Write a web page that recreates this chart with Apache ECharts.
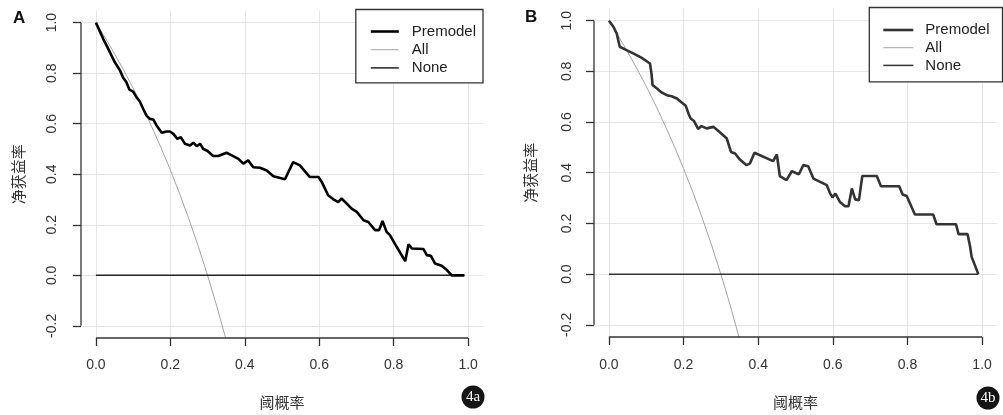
<!DOCTYPE html>
<html><head><meta charset="utf-8">
<script src="https://cdn.jsdelivr.net/npm/echarts@6/dist/echarts.min.js"></script>
<style>html,body{margin:0;padding:0;background:#fff}#c{width:1003px;height:415px}</style>
</head><body><div id="c"></div>
<script>
// ---- tick labels ----
const xTicks = [0, 0.2, 0.4, 0.6, 0.8, 1.0];
const yTicks = [-0.2, 0, 0.2, 0.4, 0.6, 0.8, 1.0];
const xTitle = '阈概率';
const yTitle = '净获益率';
const legendNames = ['Premodel', 'All', 'None'];

// ---- Panel A: Premodel ----
const premodelA_x = [0, 0.02, 0.038, 0.051, 0.065, 0.073, 0.082, 0.09, 0.1, 0.109, 0.118, 0.127, 0.136, 0.145, 0.154, 0.163, 0.177, 0.19, 0.199, 0.208, 0.219, 0.228, 0.239, 0.253, 0.262, 0.271, 0.28, 0.288, 0.3, 0.315, 0.329, 0.351, 0.365, 0.383, 0.396, 0.409, 0.423, 0.441, 0.459, 0.477, 0.49, 0.508, 0.53, 0.548, 0.575, 0.598, 0.607, 0.624, 0.638, 0.651, 0.66, 0.674, 0.687, 0.701, 0.719, 0.732, 0.75, 0.761, 0.77, 0.781, 0.79, 0.808, 0.831, 0.84, 0.849, 0.88, 0.889, 0.9, 0.911, 0.929, 0.943, 0.956, 0.99];
const premodelA_y = [1.0, 0.935, 0.882, 0.843, 0.81, 0.783, 0.764, 0.735, 0.727, 0.705, 0.688, 0.659, 0.632, 0.619, 0.617, 0.593, 0.564, 0.569, 0.569, 0.56, 0.54, 0.547, 0.521, 0.514, 0.525, 0.511, 0.521, 0.501, 0.492, 0.472, 0.472, 0.485, 0.475, 0.461, 0.442, 0.455, 0.428, 0.426, 0.415, 0.392, 0.387, 0.38, 0.448, 0.435, 0.389, 0.389, 0.369, 0.317, 0.301, 0.29, 0.304, 0.284, 0.264, 0.251, 0.218, 0.211, 0.179, 0.179, 0.215, 0.172, 0.159, 0.113, 0.056, 0.123, 0.106, 0.104, 0.08, 0.077, 0.047, 0.038, 0.021, 0.0, 0.0];

// ---- Panel B: Premodel ----
const premodelB_x = [0, 0.012, 0.021, 0.025, 0.029, 0.047, 0.065, 0.088, 0.11, 0.114, 0.117, 0.128, 0.141, 0.155, 0.168, 0.182, 0.195, 0.206, 0.213, 0.219, 0.228, 0.239, 0.248, 0.262, 0.28, 0.298, 0.316, 0.327, 0.338, 0.351, 0.369, 0.378, 0.39, 0.44, 0.45, 0.458, 0.476, 0.49, 0.509, 0.521, 0.534, 0.548, 0.566, 0.584, 0.592, 0.599, 0.607, 0.619, 0.633, 0.642, 0.651, 0.66, 0.67, 0.679, 0.718, 0.729, 0.778, 0.787, 0.798, 0.82, 0.869, 0.878, 0.93, 0.937, 0.961, 0.968, 0.972, 0.99];
const premodelB_y = [1.0, 0.976, 0.949, 0.923, 0.897, 0.884, 0.871, 0.853, 0.831, 0.792, 0.746, 0.733, 0.717, 0.706, 0.702, 0.693, 0.677, 0.664, 0.634, 0.614, 0.604, 0.573, 0.584, 0.575, 0.581, 0.559, 0.535, 0.482, 0.476, 0.452, 0.43, 0.437, 0.479, 0.446, 0.472, 0.387, 0.371, 0.406, 0.394, 0.43, 0.426, 0.377, 0.364, 0.351, 0.321, 0.303, 0.318, 0.285, 0.268, 0.268, 0.338, 0.295, 0.292, 0.387, 0.387, 0.347, 0.347, 0.314, 0.308, 0.235, 0.235, 0.197, 0.197, 0.158, 0.158, 0.108, 0.068, 0.0];

// ---- All (treat all) ----
const all_x = [0, 0.025, 0.05, 0.075, 0.1, 0.125, 0.15, 0.175, 0.2, 0.225, 0.25, 0.275, 0.3, 0.325, 0.35];
const allA_y = [1.0, 0.94, 0.877, 0.811, 0.741, 0.667, 0.588, 0.505, 0.417, 0.323, 0.222, 0.115, 0.0, -0.123, -0.256];
const allB_y = [1.0, 0.94, 0.877, 0.811, 0.741, 0.667, 0.588, 0.505, 0.417, 0.323, 0.222, 0.115, 0.0, -0.123, -0.256];

// ---- None ----
const none_x = [0, 0.99];
const none_y = [0, 0];

// axis ranges (R style 4% padding)
const xRange = [-0.04, 1.04];
const yRange = [-0.248, 1.048];

const zip = (xs, ys) => xs.map((x, i) => [x, ys[i]]);
const fmt = v => v.toFixed(1);
const FONT = '"Liberation Sans", Arial, sans-serif';
const CJK = '"Noto Sans CJK SC", sans-serif';

function makeAxes(gi, yMargin, xMargin, yGap, xGap) {
  const x = {
    type: 'value', gridIndex: gi, min: xRange[0], max: xRange[1],
    axisLine: { show: false, onZero: false },
    axisTick: { show: true, customValues: xTicks, length: 8, lineStyle: { color: '#333', width: 1.3 } },
    axisLabel: { customValues: xTicks, formatter: fmt, margin: xMargin, fontSize: 14, color: '#333', fontFamily: FONT },
    splitLine: { show: true, lineStyle: { color: '#e6e6e6', width: 1 } },
    name: xTitle, nameLocation: 'middle', nameGap: xGap,
    nameTextStyle: { fontSize: 15, color: '#333', fontFamily: CJK }
  };
  const y = {
    type: 'value', gridIndex: gi, min: yRange[0], max: yRange[1],
    axisLine: { show: false, onZero: false },
    axisTick: { show: true, customValues: yTicks, length: 8, lineStyle: { color: '#333', width: 1.3 } },
    axisLabel: { customValues: yTicks, formatter: fmt, margin: yMargin, rotate: 90, fontSize: 14, color: '#333', fontFamily: FONT },
    splitLine: { show: true, lineStyle: { color: '#e6e6e6', width: 1 } },
    name: yTitle, nameLocation: 'middle', nameGap: yGap,
    nameTextStyle: { fontSize: 15, color: '#333', fontFamily: CJK }
  };
  return [x, y];
}

const [xa, ya] = makeAxes(0, 22, 20, 55, 57);
const [xb, yb] = makeAxes(1, 20, 21, 56, 58);

function panelSeries(gi, pre, allY, preColor, preWidth, noneColor) {
  const base = { type: 'line', xAxisIndex: gi, yAxisIndex: gi, symbol: 'none', silent: true };
  return [
    Object.assign({}, base, { name: 'All', data: zip(all_x, allY), lineStyle: { color: '#a3a3a3', width: 1 }, itemStyle: { color: '#a3a3a3' }, z: 3 }),
    Object.assign({}, base, { name: 'None', data: zip(none_x, none_y), lineStyle: { color: noneColor, width: 1.5 }, itemStyle: { color: noneColor }, z: 4 }),
    Object.assign({}, base, { name: 'Premodel', data: pre, lineStyle: { color: preColor, width: preWidth }, itemStyle: { color: preColor }, z: 5 }),
    // axis lines spanning the tick range only (R style)
    Object.assign({}, base, { name: 'axisX' + gi, data: [[xTicks[0], yRange[0]], [xTicks[xTicks.length - 1], yRange[0]]], clip: false, lineStyle: { color: '#333', width: 1.3 }, z: 6 }),
    Object.assign({}, base, { name: 'axisY' + gi, data: [[xRange[0], yTicks[0]], [xRange[0], yTicks[yTicks.length - 1]]], clip: false, lineStyle: { color: '#333', width: 1.3 }, z: 6 })
  ];
}

function lineIcon(w, h) {
  return 'path://M0,0H' + w + 'V' + h + 'H0Z';
}

function legendFor(pos, iconW, gap, padding, textPad, preColor, preWidth, noneColor) {
  return Object.assign({
    orient: 'vertical', itemWidth: iconW, itemHeight: 15, itemGap: gap,
    padding: padding, borderColor: '#333', borderWidth: 1.3, backgroundColor: '#fff',
    selectedMode: false, symbolKeepAspect: true,
    textStyle: { fontSize: 15, color: '#222', fontFamily: FONT, lineHeight: 15, padding: [0, 0, 0, textPad] },
    data: [
      { name: 'Premodel', icon: lineIcon(iconW, preWidth), itemStyle: { color: preColor, borderWidth: 0 } },
      { name: 'All', icon: lineIcon(iconW, 1), itemStyle: { color: '#a3a3a3', borderWidth: 0 } },
      { name: 'None', icon: lineIcon(iconW, 1.5), itemStyle: { color: noneColor, borderWidth: 0 } }
    ]
  }, pos);
}

const chart = echarts.init(document.getElementById('c'), null, { renderer: 'canvas' });
chart.setOption({
  animation: false,
  backgroundColor: '#fff',
  grid: [
    { left: 81, right: 520, top: 10.5, bottom: 76.5 },
    { left: 594, right: 6, top: 8.5, bottom: 77.5 }
  ],
  xAxis: [xa, xb],
  yAxis: [ya, yb],
  legend: [
    legendFor({ right: 520, top: 9.5 }, 28, 3.2, [14.5, 7, 7.5, 15], 8, '#000', 2.6, '#222'),
    legendFor({ right: 0.5, top: 7.5 }, 30, 2.7, [15, 13, 9, 14], 7, '#333', 2.6, '#333')
  ],
  series: [].concat(
    panelSeries(0, zip(premodelA_x, premodelA_y), allA_y, '#000', 2.6, '#222'),
    panelSeries(1, zip(premodelB_x, premodelB_y), allB_y, '#333', 2.6, '#333')
  ),
  graphic: [
    { type: 'text', left: 13, top: 10, style: { text: 'A', font: 'bold 17px "Liberation Sans"', fill: '#111' } },
    { type: 'text', left: 525, top: 9, style: { text: 'B', font: 'bold 17px "Liberation Sans"', fill: '#111' } },
    { type: 'circle', shape: { cx: 473, cy: 397, r: 11.5 }, style: { fill: '#151515' } },
    { type: 'text', x: 473, y: 397, style: { text: '4a', font: '15px "Liberation Serif"', fill: '#fff', align: 'center', verticalAlign: 'middle' } },
    { type: 'circle', shape: { cx: 988, cy: 398, r: 11.5 }, style: { fill: '#151515' } },
    { type: 'text', x: 988, y: 398, style: { text: '4b', font: '15px "Liberation Serif"', fill: '#fff', align: 'center', verticalAlign: 'middle' } }
  ]
});
</script>
</body></html>
